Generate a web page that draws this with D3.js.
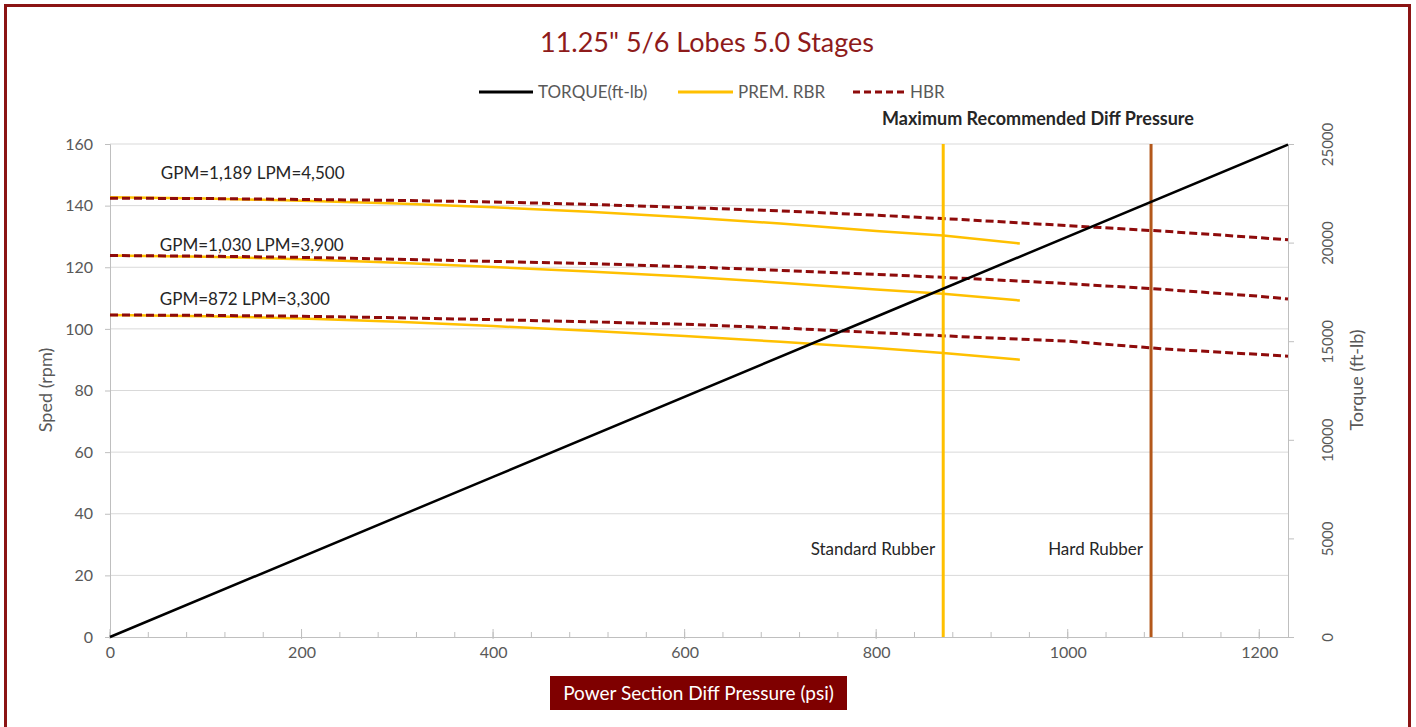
<!DOCTYPE html>
<html>
<head>
<meta charset="utf-8">
<script src="https://cdn.jsdelivr.net/npm/d3@7"></script>
<style>
  html, body { margin: 0; padding: 0; background: #fff; }
  svg { display: block; font-family: Lato, "Open Sans", sans-serif; }
</style>
</head>
<body>
<svg id="chart" width="1416" height="727"></svg>
<script>
// ---------- DATA ----------
const chartTitle = "11.25\" 5/6 Lobes 5.0 Stages";
const seriesNames = ["TORQUE(ft-lb)", "PREM. RBR", "HBR"];
const pressurePrem = [0, 100, 200, 300, 400, 500, 600, 700, 800, 870, 950];
const pressureHbr = [0, 100, 200, 300, 400, 500, 600, 700, 800, 900, 1000, 1100, 1200, 1230];
const premFlow4500 = [142.7, 142.3, 141.6, 140.7, 139.5, 138.0, 136.2, 134.2, 131.8, 130.3, 127.7];
const premFlow3900 = [123.8, 123.4, 122.6, 121.5, 120.1, 118.6, 117.0, 115.0, 112.8, 111.4, 109.2];
const premFlow3300 = [104.5, 104.1, 103.4, 102.3, 100.9, 99.4, 97.7, 95.8, 93.8, 92.2, 90.0];
const hbrFlow4500 = [142.4, 142.3, 142.0, 141.7, 141.2, 140.4, 139.4, 138.3, 136.9, 135.3, 133.5, 131.7, 129.6, 128.9];
const hbrFlow3900 = [123.8, 123.6, 123.2, 122.6, 121.9, 121.2, 120.2, 119.0, 117.7, 116.3, 114.7, 112.8, 110.6, 109.7];
const hbrFlow3300 = [104.5, 104.4, 104.1, 103.6, 103.0, 102.3, 101.5, 100.3, 98.8, 97.3, 96.0, 93.5, 91.7, 91.1];
const torquePressure = [0, 400, 800, 1230];
const torqueValues = [0, 8120, 16240, 24970];
const flowLabels = ["GPM=1,189 LPM=4,500", "GPM=1,030 LPM=3,900", "GPM=872 LPM=3,300"];
const flowLabelAt = [[53, 148.6], [52, 125.3], [52, 107.8]]; // [psi, rpm] anchor for labels
const limitPressures = [870, 1087];
const limitLabels = ["Standard Rubber", "Hard Rubber"];
const xTicks = [0, 200, 400, 600, 800, 1000, 1200];
const yTicks = [0, 20, 40, 60, 80, 100, 120, 140, 160];
const y2Ticks = [0, 5000, 10000, 15000, 20000, 25000];

// ---------- LAYOUT ----------
const svg = d3.select("#chart");
const M = { left: 110, right: 1288, top: 144, bottom: 637 };
const x = d3.scaleLinear().domain([0, 1230]).range([M.left, M.right]);
const y = d3.scaleLinear().domain([0, 160]).range([M.bottom, M.top]);
const y2 = d3.scaleLinear().domain([0, 25000]).range([M.bottom, M.top]);

const gray = "#595959";
const dark = "#262626";
const hbrColor = "#8E0B0B";
const yellow = "#FFC000";
const brown = "#B3581B";

// border
svg.append("rect").attr("x", 5.5).attr("y", 5.5).attr("width", 1404).attr("height", 740)
  .attr("fill", "none").attr("stroke", "#8B1414").attr("stroke-width", 3);

// title
svg.append("text").attr("x", 707).attr("y", 52).attr("text-anchor", "middle")
  .attr("font-size", 27).attr("fill", "#8E1B1B").text(chartTitle);

// legend
const legend = [
  { x1: 479, x2: 533, color: "#000", dash: null, tx: 538 },
  { x1: 678, x2: 733, color: yellow, dash: null, tx: 738 },
  { x1: 853, x2: 905, color: hbrColor, dash: "7,4", tx: 910 }
];
legend.forEach((l, i) => {
  svg.append("line").attr("x1", l.x1).attr("x2", l.x2).attr("y1", 92).attr("y2", 92)
    .attr("stroke", l.color).attr("stroke-width", 3).attr("stroke-dasharray", l.dash);
  svg.append("text").attr("x", l.tx).attr("y", 98).attr("font-size", 17).attr("fill", gray)
    .text(seriesNames[i]);
});

// gridlines
svg.append("g").selectAll("line").data(yTicks.filter(d => d > 0)).join("line")
  .attr("x1", M.left).attr("x2", M.right).attr("y1", d => y(d)).attr("y2", d => y(d))
  .attr("stroke", "#D9D9D9").attr("stroke-width", 1);

// left axis
const yAxis = d3.axisLeft(y).tickValues(yTicks).tickSize(5).tickPadding(12);
const gy = svg.append("g").attr("transform", `translate(${M.left},0)`).call(yAxis);
gy.select(".domain").attr("stroke", "#BFBFBF");
gy.selectAll(".tick line").attr("stroke", "#BFBFBF");
gy.selectAll("text").attr("font-size", 16).attr("fill", gray).attr("font-family", "Lato");

// right axis
const y2Axis = d3.axisRight(y2).tickValues(y2Ticks).tickSize(6).tickPadding(0).tickFormat(d3.format("d"));
const gy2 = svg.append("g").attr("transform", `translate(${M.right},0)`).call(y2Axis);
gy2.select(".domain").attr("stroke", "#BFBFBF");
gy2.selectAll(".tick line").attr("stroke", "#BFBFBF");
gy2.selectAll("text").attr("font-size", 15).attr("fill", gray).attr("font-family", "Lato")
  .attr("x", 0).attr("dy", 0)
  .attr("text-anchor", "middle")
  .attr("transform", "translate(45,0) rotate(-90)");

// bottom axis
const xMinor = d3.range(0, 1230, 40);
svg.append("g").selectAll("line").data(xMinor).join("line")
  .attr("x1", d => x(d)).attr("x2", d => x(d)).attr("y1", M.bottom - 5).attr("y2", M.bottom)
  .attr("stroke", "#BFBFBF");
const xAxis = d3.axisBottom(x).tickValues(xTicks).tickSize(0).tickPadding(10).tickFormat(d3.format("d"));
const gx = svg.append("g").attr("transform", `translate(0,${M.bottom})`).call(xAxis);
gx.select(".domain").attr("stroke", "#BFBFBF").attr("d", `M${M.left},0.5H${M.right}`);
gx.selectAll(".tick line").remove();
svg.append("g").selectAll("line").data(xTicks).join("line")
  .attr("x1", d => x(d)).attr("x2", d => x(d)).attr("y1", M.bottom - 8).attr("y2", M.bottom + 2)
  .attr("stroke", "#BFBFBF");
gx.selectAll("text").attr("font-size", 16).attr("fill", gray).attr("font-family", "Lato");

// axis titles
svg.append("text").attr("transform", "translate(52,390) rotate(-90)").attr("text-anchor", "middle")
  .attr("font-size", 18).attr("fill", gray).text("Sped (rpm)");
svg.append("text").attr("transform", "translate(1363,380) rotate(-90)").attr("text-anchor", "middle")
  .attr("font-size", 18).attr("fill", gray).text("Torque (ft-lb)");
svg.append("rect").attr("x", 550).attr("y", 676).attr("width", 297).attr("height", 34).attr("fill", "#7F0000");
svg.append("text").attr("x", 698.5).attr("y", 700).attr("text-anchor", "middle")
  .attr("font-size", 19).attr("fill", "#fff").text("Power Section Diff Pressure (psi)");

// lines
const line = (xs) => d3.line().x((d, i) => x(xs[i])).y(d => y(d));
const plot = svg.append("g");
[premFlow4500, premFlow3900, premFlow3300].forEach(s => {
  plot.append("path").attr("d", line(pressurePrem)(s)).attr("fill", "none")
    .attr("stroke", yellow).attr("stroke-width", 2.5);
});
[hbrFlow4500, hbrFlow3900, hbrFlow3300].forEach(s => {
  plot.append("path").attr("d", line(pressureHbr)(s)).attr("fill", "none")
    .attr("stroke", hbrColor).attr("stroke-width", 3).attr("stroke-dasharray", "8,4");
});

// limit lines
const limitColors = [yellow, brown];
limitPressures.forEach((p, i) => {
  plot.append("line").attr("x1", x(p)).attr("x2", x(p)).attr("y1", M.top).attr("y2", M.bottom)
    .attr("stroke", limitColors[i]).attr("stroke-width", 3);
  svg.append("text").attr("x", x(p) - 8).attr("y", 555).attr("text-anchor", "end")
    .attr("font-size", 17).attr("fill", dark).text(limitLabels[i]);
});

// torque
plot.append("path")
  .attr("d", d3.line().x((d, i) => x(torquePressure[i])).y(d => y2(d))(torqueValues))
  .attr("fill", "none").attr("stroke", "#000").attr("stroke-width", 2.5);

// flow labels
flowLabels.forEach((t, i) => {
  svg.append("text").attr("x", x(flowLabelAt[i][0])).attr("y", y(flowLabelAt[i][1]))
    .attr("font-size", 17).attr("fill", dark).text(t);
});

svg.append("text").attr("x", 1038).attr("y", 125).attr("text-anchor", "middle")
  .attr("font-size", 18).attr("font-weight", "bold").attr("fill", dark)
  .text("Maximum Recommended Diff Pressure");
</script>
</body>
</html>
